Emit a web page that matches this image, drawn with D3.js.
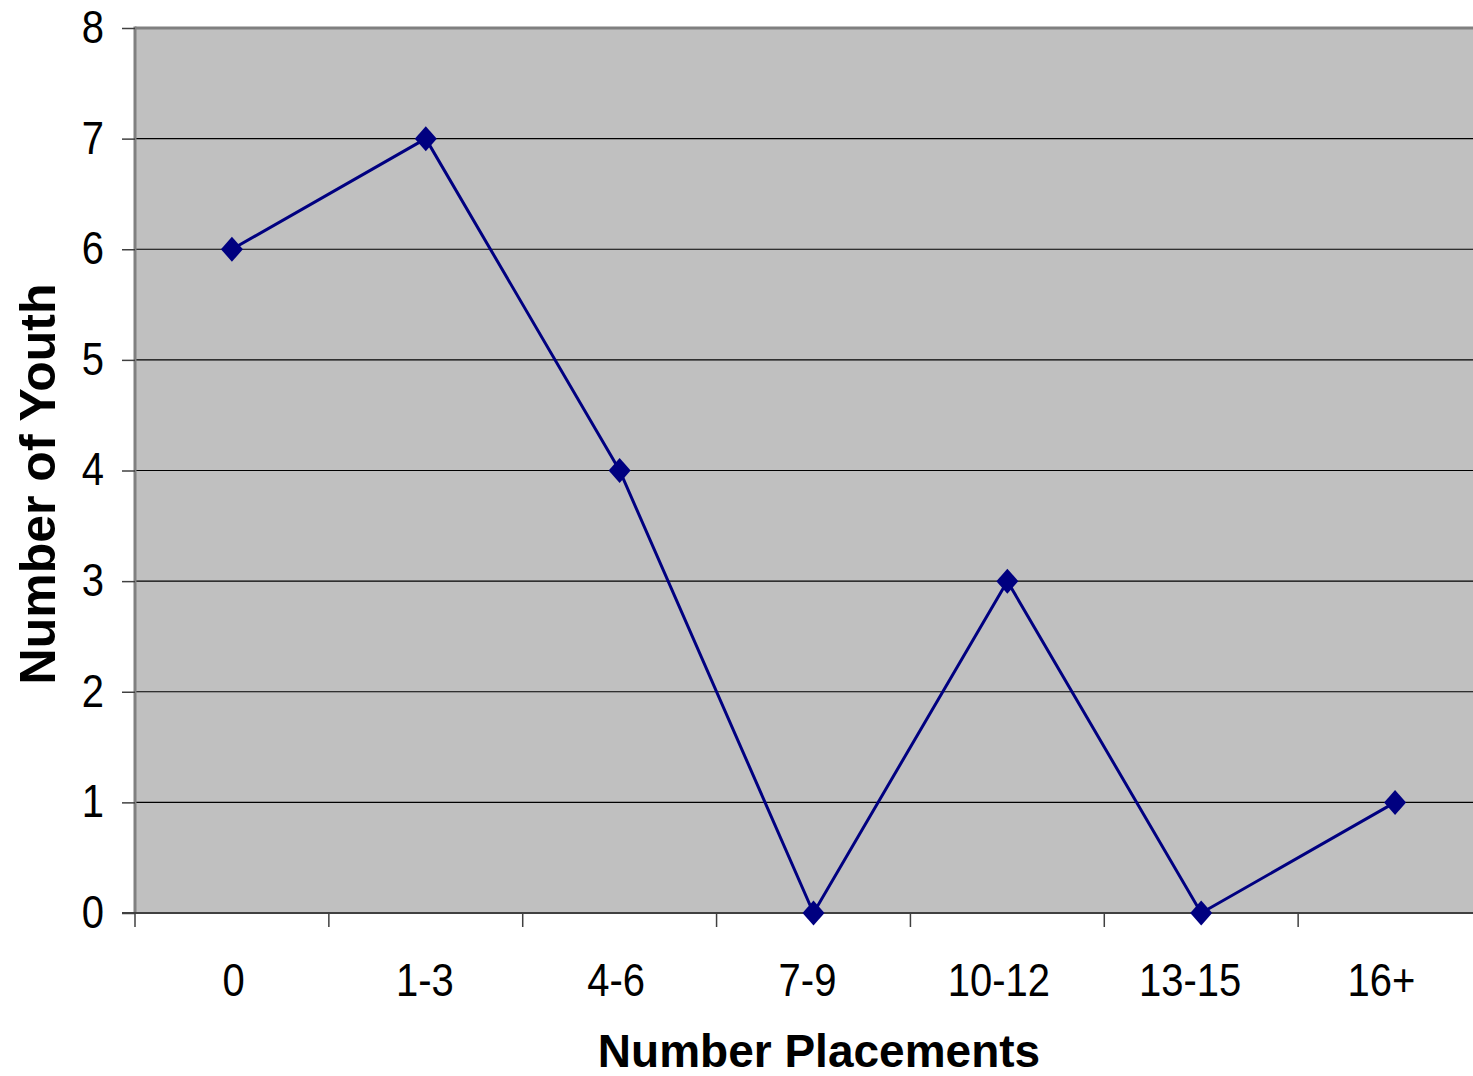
<!DOCTYPE html>
<html>
<head>
<meta charset="utf-8">
<script src="https://cdn.jsdelivr.net/npm/d3@7"></script>
<style>
  html, body { margin: 0; padding: 0; background: #fff; }
  svg { display: block; }
  text { font-family: "Liberation Sans", Arial, sans-serif; fill: #000; }
</style>
</head>
<body>
<svg id="chart" width="1473" height="1076"></svg>
<script>
const categories = ["0", "1-3", "4-6", "7-9", "10-12", "13-15", "16+"];
const youthCounts = [6, 7, 4, 0, 3, 0, 1];
const yTicks = [0, 1, 2, 3, 4, 5, 6, 7, 8];
const xTitle = "Number Placements";
const yTitle = "Number of Youth";

(function () {
const svg = d3.select("#chart");
const pL = 135, pT = 28, pB = 913, pR = 1492;

const x = d3.scaleBand().domain(categories).range([pL, pR]).padding(0);
const xLab = d3.scaleBand().domain(categories).range([138, 1477]).padding(0);
const y = d3.scaleLinear().domain([0, 8]).range([pB, pT]);

// plot background
svg.append("rect")
  .attr("x", pL).attr("y", pT)
  .attr("width", pR - pL).attr("height", pB - pT)
  .attr("fill", "#c0c0c0");

// gridlines
svg.append("g").selectAll("line")
  .data(yTicks.filter(d => d > 0 && d < 8))
  .join("line")
  .attr("x1", pL).attr("x2", pR)
  .attr("y1", d => y(d)).attr("y2", d => y(d))
  .attr("stroke", "#000").attr("stroke-width", 1.2);

// top & left border
svg.append("line").attr("x1", pL).attr("x2", pR).attr("y1", pT).attr("y2", pT)
  .attr("stroke", "#808080").attr("stroke-width", 3);
svg.append("line").attr("x1", pL).attr("x2", pL).attr("y1", pT - 1.5).attr("y2", pB)
  .attr("stroke", "#808080").attr("stroke-width", 3);

// y axis
const yAxis = svg.append("g")
  .attr("transform", `translate(${pL},0)`)
  .call(d3.axisLeft(y).tickValues(yTicks).tickSize(13).tickPadding(0).tickFormat(d3.format("d")));
yAxis.select(".domain").remove();
yAxis.selectAll(".tick line").attr("stroke", "#404040").attr("stroke-width", 1.5);
yAxis.selectAll(".tick text")
  .attr("x", -31).attr("dy", 0).attr("y", 12.6)
  .attr("transform", "scale(1,1.15)")
  .style("font-size", "40px");

// x axis labels
const xAxis = svg.append("g")
  .attr("transform", `translate(0,${pB})`)
  .call(d3.axisBottom(xLab).tickSize(0).tickPadding(0));
xAxis.select(".domain").remove();
xAxis.selectAll(".tick text")
  .attr("y", 72.2).attr("dy", 0)
  .attr("transform", "scale(1,1.15)")
  .style("font-size", "40px");

// x category boundary ticks
svg.append("g").selectAll("line")
  .data(categories)
  .join("line")
  .attr("x1", d => x(d)).attr("x2", d => x(d))
  .attr("y1", pB).attr("y2", pB + 14)
  .attr("stroke", "#404040").attr("stroke-width", 1.5);

// bottom axis line
svg.append("line").attr("x1", pL - 13).attr("x2", pR).attr("y1", pB).attr("y2", pB)
  .attr("stroke", "#404040").attr("stroke-width", 2);

// series line
const line = d3.line()
  .x((d, i) => x(categories[i]) + x.bandwidth() / 2)
  .y(d => y(d));
svg.append("path")
  .datum(youthCounts)
  .attr("d", line)
  .attr("fill", "none")
  .attr("stroke", "#000080")
  .attr("stroke-width", 3);

// markers
svg.append("g").selectAll("path")
  .data(youthCounts)
  .join("path")
  .attr("transform", (d, i) => `translate(${x(categories[i]) + x.bandwidth() / 2},${y(d)})`)
  .attr("d", "M0,-12.5L11,0L0,12.5L-11,0Z")
  .attr("fill", "#000080");

// axis titles
svg.append("text")
  .attr("x", 819).attr("y", 1067)
  .attr("text-anchor", "middle")
  .style("font-size", "46px").style("font-weight", "bold")
  .text(xTitle);

svg.append("text")
  .attr("transform", "translate(55,484) rotate(-90)")
  .attr("text-anchor", "middle")
  .style("font-size", "50px").style("font-weight", "bold")
  .text(yTitle);
})();
</script>
</body>
</html>
